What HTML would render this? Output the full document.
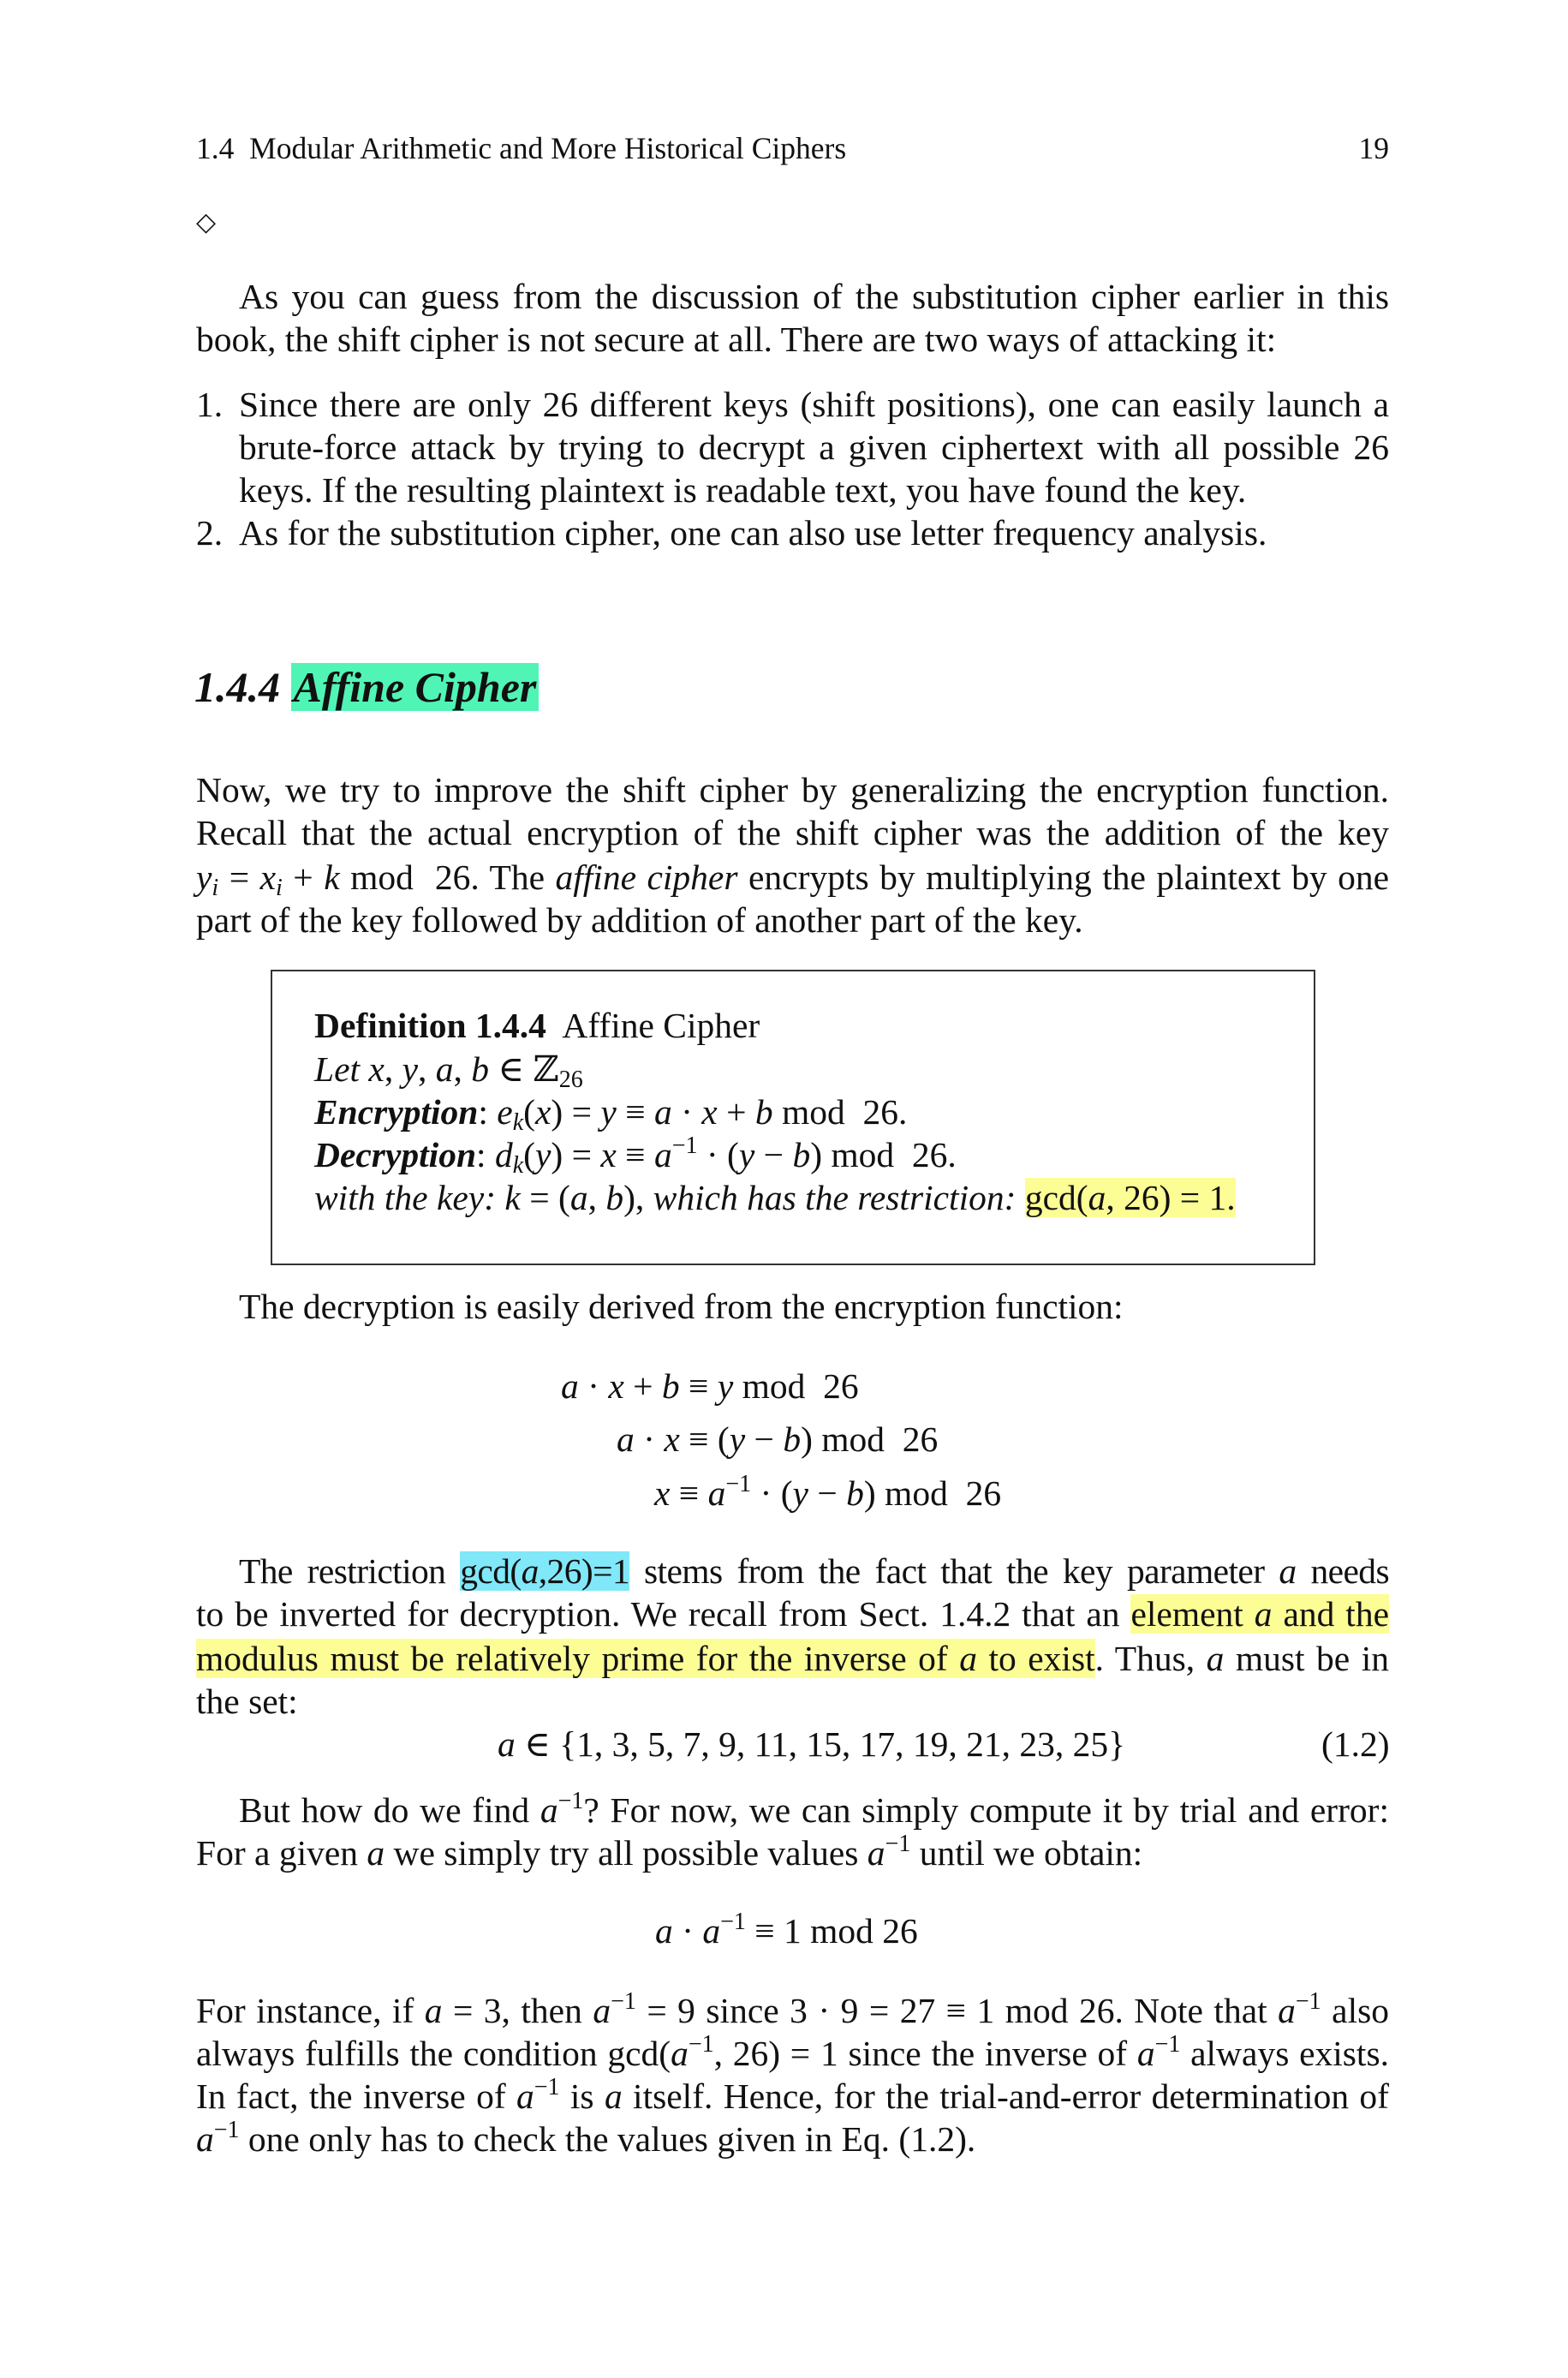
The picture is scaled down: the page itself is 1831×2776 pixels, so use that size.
<!DOCTYPE html>
<html><head><meta charset="utf-8"><style>
html,body{margin:0;padding:0;background:#fff}
body{width:1831px;height:2776px;position:relative;overflow:hidden;font-family:"Liberation Serif","DejaVu Serif",serif;color:#111}
.l{position:absolute;font-size:41.5px;line-height:50px;white-space:nowrap}
.j{width:1393px;left:229px;text-align:justify;text-align-last:justify}
i{font-style:italic}
sup{font-size:28px;line-height:0;vertical-align:16px}
sub{font-size:28px;line-height:0;vertical-align:-7px}
.hy{background:#fdfd96}
.hc{background:#80e8f8}
.hg{background:#50f5b5}
</style></head><body>
<div class="l" style="left:229px;top:148px;font-size:35.5px;width:1393px">1.4&nbsp; Modular Arithmetic and More Historical Ciphers<span style="position:absolute;right:0">19</span></div>
<div class="l" style="left:229px;top:235px;font-size:30px">◇</div>

<div class="l j" style="top:321px;left:279px;width:1343px">As you can guess from the discussion of the substitution cipher earlier in this</div>
<div class="l" style="top:371px;left:229px">book, the shift cipher is not secure at all. There are two ways of attacking it:</div>

<div class="l" style="top:447px;left:229px">1.</div>
<div class="l j" style="top:447px;left:279px;width:1343px">Since there are only 26 different keys (shift positions), one can easily launch a</div>
<div class="l j" style="top:497px;left:279px;width:1343px">brute-force attack by trying to decrypt a given ciphertext with all possible 26</div>
<div class="l" style="top:547px;left:279px">keys. If the resulting plaintext is readable text, you have found the key.</div>
<div class="l" style="top:597px;left:229px">2.</div>
<div class="l" style="top:597px;left:279px">As for the substitution cipher, one can also use letter frequency analysis.</div>

<div class="l" style="top:772px;left:227px;font-size:50px;line-height:60px;font-weight:bold;font-style:italic">1.4.4 <span class="hg" style="padding:0 3px">Affine Cipher</span></div>

<div class="l j" style="top:897px">Now, we try to improve the shift cipher by generalizing the encryption function.</div>
<div class="l j" style="top:947px">Recall that the actual encryption of the shift cipher was the addition of the key</div>
<div class="l j" style="top:999px"><i>y<sub>i</sub></i> = <i>x<sub>i</sub></i> + <i>k</i> mod&nbsp; 26. The <i>affine cipher</i> encrypts by multiplying the plaintext by one</div>
<div class="l" style="top:1049px;left:229px">part of the key followed by addition of another part of the key.</div>

<div style="position:absolute;left:316px;top:1132px;width:1216px;height:341px;border:2px solid #333"></div>
<div class="l" style="top:1172px;left:367px"><b>Definition 1.4.4</b>&nbsp; Affine Cipher</div>
<div class="l" style="top:1223px;left:367px"><i>Let x</i>, <i>y</i>, <i>a</i>, <i>b</i> ∈ ℤ<sub>26</sub></div>
<div class="l" style="top:1273px;left:367px"><b><i>Encryption</i></b>: <i>e<sub>k</sub></i>(<i>x</i>) = <i>y</i> ≡ <i>a</i> · <i>x</i> + <i>b</i> mod&nbsp; 26.</div>
<div class="l" style="top:1323px;left:367px"><b><i>Decryption</i></b>: <i>d<sub>k</sub></i>(<i>y</i>) = <i>x</i> ≡ <i>a</i><sup>−1</sup> · (<i>y</i> − <i>b</i>) mod&nbsp; 26.</div>
<div class="l" style="top:1373px;left:367px"><i>with the key: k</i> = (<i>a</i>, <i>b</i>), <i>which has the restriction:</i> <span class="hy">gcd(<i>a</i>, 26) = 1.</span></div>

<div class="l" style="top:1500px;left:279px">The decryption is easily derived from the encryption function:</div>
<div class="l" style="top:1593px;left:655px"><i>a</i> · <i>x</i> + <i>b</i> ≡ <i>y</i> mod&nbsp; 26</div>
<div class="l" style="top:1655px;left:720px"><i>a</i> · <i>x</i> ≡ (<i>y</i> − <i>b</i>) mod&nbsp; 26</div>
<div class="l" style="top:1718px;left:764px"><i>x</i> ≡ <i>a</i><sup>−1</sup> · (<i>y</i> − <i>b</i>) mod&nbsp; 26</div>

<div class="l j" style="top:1809px;left:279px;width:1343px;letter-spacing:-0.6px">The restriction <span class="hc">gcd(<i>a</i>,26)=1</span> stems from the fact that the key parameter <i>a</i> needs</div>
<div class="l j" style="top:1859px">to be inverted for decryption. We recall from Sect. 1.4.2 that an <span class="hy">element <i>a</i> and the</span></div>
<div class="l j" style="top:1911px"><span class="hy">modulus must be relatively prime for the inverse of <i>a</i> to exist</span>. Thus, <i>a</i> must be in</div>
<div class="l" style="top:1961px;left:229px">the set:</div>
<div class="l" style="top:2011px;left:581px"><i>a</i> ∈ {1, 3, 5, 7, 9, 11, 15, 17, 19, 21, 23, 25}</div>
<div class="l" style="top:2011px;left:1543px">(1.2)</div>

<div class="l j" style="top:2088px;left:279px;width:1343px">But how do we find <i>a</i><sup>−1</sup>? For now, we can simply compute it by trial and error:</div>
<div class="l" style="top:2138px;left:229px">For a given <i>a</i> we simply try all possible values <i>a</i><sup>−1</sup> until we obtain:</div>
<div class="l" style="top:2229px;left:765px"><i>a</i> · <i>a</i><sup>−1</sup> ≡ 1 mod 26</div>

<div class="l j" style="top:2322px">For instance, if <i>a</i> = 3, then <i>a</i><sup>−1</sup> = 9 since 3 · 9 = 27 ≡ 1 mod 26. Note that <i>a</i><sup>−1</sup> also</div>
<div class="l j" style="top:2372px">always fulfills the condition gcd(<i>a</i><sup>−1</sup>, 26) = 1 since the inverse of <i>a</i><sup>−1</sup> always exists.</div>
<div class="l j" style="top:2422px">In fact, the inverse of <i>a</i><sup>−1</sup> is <i>a</i> itself. Hence, for the trial-and-error determination of</div>
<div class="l" style="top:2472px;left:229px"><i>a</i><sup>−1</sup> one only has to check the values given in Eq. (1.2).</div>
</body></html>
